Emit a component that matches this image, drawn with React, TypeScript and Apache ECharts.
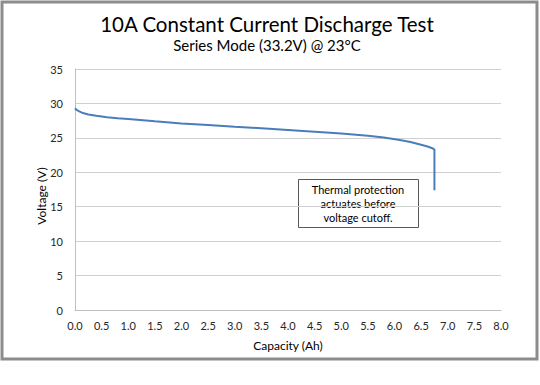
import React, { useEffect, useRef } from "react";
import * as echarts from "echarts";

const capacityAh = [0, 0.03, 0.08, 0.15, 0.25, 0.4, 0.6, 0.8, 1.0, 1.5, 2.0, 2.5, 3.0, 3.5, 4.0, 4.5, 5.0, 5.5, 5.8, 6.1, 6.3, 6.5, 6.62, 6.71, 6.75, 6.75];
const voltageV = [29.3, 29.05, 28.85, 28.6, 28.4, 28.2, 28.0, 27.85, 27.75, 27.4, 27.1, 26.85, 26.6, 26.4, 26.15, 25.9, 25.65, 25.3, 25.05, 24.7, 24.4, 24.0, 23.75, 23.5, 23.3, 17.4];

const titleText = "10A Constant Current Discharge Test";
const subtitleText = "Series Mode (33.2V) @ 23°C";
const xAxisName = "Capacity (Ah)";
const yAxisName = "Voltage (V)";
const noteLines = ["Thermal protection", "actuates before", "voltage cutoff."];

const FONT = "Lato, 'Open Sans', sans-serif";

export default function App() {
  const ref = useRef<HTMLDivElement>(null);
  useEffect(() => {
    document.body.style.margin = "0";
    const chart = echarts.init(ref.current!, null, { renderer: "svg" });
    const data = capacityAh.map((c, i) => [c, voltageV[i]]);
    chart.setOption({
      animation: false,
      backgroundColor: "#ffffff",
      textStyle: { fontFamily: FONT },
      title: {
        text: titleText,
        subtext: subtitleText,
        left: 262,
        textAlign: "center",
        top: 8,
        itemGap: 3,
        textStyle: { fontFamily: FONT, fontSize: 20.5, fontWeight: "normal", color: "#000" },
        subtextStyle: { fontFamily: FONT, fontSize: 15, color: "#000" },
      },
      grid: { left: 75, right: 39, top: 69, bottom: 75 },
      xAxis: {
        type: "value",
        min: 0,
        max: 8,
        interval: 0.5,
        axisLine: { show: true, lineStyle: { color: "#bfbfbf", width: 1 } },
        axisTick: { show: false },
        splitLine: { show: false },
        axisLabel: {
          margin: 10,
          fontFamily: FONT,
          fontSize: 11,
          color: "#262626",
          formatter: (v: number) => v.toFixed(1),
        },
      },
      yAxis: {
        type: "value",
        min: 0,
        max: 35,
        interval: 5,
        axisLine: { show: true, lineStyle: { color: "#bfbfbf", width: 1 } },
        axisTick: { show: false },
        splitLine: { show: true, lineStyle: { color: "#d0d0d0", width: 1 } },
        axisLabel: { margin: 12, fontFamily: FONT, fontSize: 11, color: "#262626" },
      },
      series: [
        {
          type: "line",
          data,
          showSymbol: false,
          symbol: "none",
          lineStyle: { color: "#4a7ebb", width: 2 },
        },
      ],
      graphic: [
        {
          type: "rect",
          shape: { x: 2, y: 2, width: 535, height: 357 },
          style: { fill: "none", stroke: "#8c8c8c", lineWidth: 3 },
          silent: true,
        },
        {
          type: "text",
          x: 41,
          y: 196,
          rotation: Math.PI / 2,
          style: {
            text: yAxisName,
            fontFamily: FONT,
            fontSize: 12,
            fill: "#000",
            align: "center",
            verticalAlign: "middle",
          },
        },
        {
          type: "text",
          x: 288,
          y: 345,
          style: {
            text: xAxisName,
            fontFamily: FONT,
            fontSize: 12,
            fill: "#000",
            align: "center",
            verticalAlign: "middle",
          },
        },
        {
          type: "rect",
          shape: { x: 298.5, y: 179.5, width: 120, height: 48 },
          style: { fill: "#ffffff", stroke: "#595959", lineWidth: 1 },
        },
        {
          type: "text",
          x: 358,
          y: 203,
          style: {
            text: noteLines.join("\n"),
            fontFamily: FONT,
            fontSize: 11,
            lineHeight: 14,
            fill: "#000",
            align: "center",
            verticalAlign: "middle",
          },
        },
      ],
    });
    return () => chart.dispose();
  }, []);
  return <div ref={ref} style={{ width: 540, height: 385 }} />;
}
